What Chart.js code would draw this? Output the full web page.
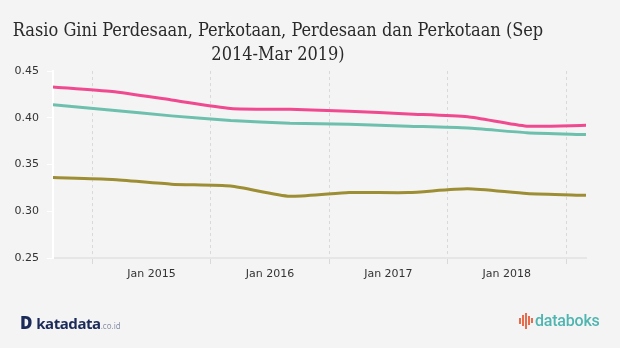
<!DOCTYPE html>
<html>
<head>
<meta charset="utf-8">
<script src="https://cdn.jsdelivr.net/npm/chart.js@4"></script>
<style>
  html, body { margin: 0; padding: 0; background: #f4f4f4; }
  #wrap { position: relative; width: 620px; height: 348px; overflow: hidden; }
  #judul {
    position: absolute; left: 0; top: 18px; width: 556px;
    text-align: center; font-family: "DejaVu Serif", serif; font-stretch: condensed;
    font-size: 18px; line-height: 24px; color: #2a2a2a;
  }
  #chart { position: absolute; left: 0; top: 0; }
  .kd { position: absolute; left: 20px; top: 311px; font-family: "Noto Sans", sans-serif; color: #1b2a59; white-space: nowrap; }
  .kd b { font-size: 17px; font-weight: 900; letter-spacing: -0.5px; }
  .kd span { font-size: 15px; font-weight: 700; letter-spacing: -0.4px; }
  .kd small { font-size: 8px; color: #8a93a8; font-weight: 400; }
  .db { position: absolute; left: 519px; top: 310px; font-family: Roboto, sans-serif; white-space: nowrap; }
  .db i { display: inline-block; width: 2px; margin-right: 1px; background: #ea6a4c; vertical-align: middle; }
  .db span { font-size: 16px; color: #4fb5b1; font-weight: 500; vertical-align: middle; letter-spacing: -0.2px; }
</style>
</head>
<body>
<div id="wrap">
  <canvas id="chart" width="620" height="348"></canvas>
  <div id="judul">Rasio Gini Perdesaan, Perkotaan, Perdesaan dan Perkotaan (Sep 2014-Mar 2019)</div>
  <div class="kd"><b>D</b> <span>katadata</span><small>.co.id</small></div>
  <div class="db"><i style="height:6px"></i><i style="height:11px"></i><i style="height:16px"></i><i style="height:9px"></i><i style="height:5px;margin-right:2px"></i><span>databoks</span></div>
</div>
<script>
// periode survei (Sep / Mar)
var periods = ['2014-09', '2015-03', '2015-09', '2016-03', '2016-09', '2017-03', '2017-09', '2018-03', '2018-09', '2019-03'];
var perkotaan = [0.433, 0.428, 0.419, 0.410, 0.409, 0.407, 0.404, 0.401, 0.391, 0.392];
var gabungan = [0.414, 0.408, 0.402, 0.397, 0.394, 0.393, 0.391, 0.389, 0.384, 0.382];
var perdesaan = [0.336, 0.334, 0.329, 0.327, 0.316, 0.320, 0.320, 0.324, 0.319, 0.317];
var tickMonths = ['2015-01', '2016-01', '2017-01', '2018-01', '2019-01'];
var tickLabels = ['Jan 2015', 'Jan 2016', 'Jan 2017', 'Jan 2018', ''];

// bulan sejak Sep 2014
function bulan(p) {
  var s = p.split('-');
  return (+s[0] - 2014) * 12 + (+s[1] - 9);
}

function seri(vals) {
  return vals.map(function(v, i) { return { x: bulan(periods[i]), y: v }; });
}

var axisFont = { family: '"DejaVu Sans", Verdana, sans-serif', size: 11 };

new Chart(document.getElementById('chart'), {
  type: 'line',
  data: {
    datasets: [
      { label: 'Perkotaan', data: seri(perkotaan), borderColor: '#f0498f' },
      { label: 'Perkotaan dan Perdesaan', data: seri(gabungan), borderColor: '#6cc0ad' },
      { label: 'Perdesaan', data: seri(perdesaan), borderColor: '#9d8d33' }
    ]
  },
  options: {
    responsive: false,
    animation: false,
    layout: { padding: { top: 71, right: 34, bottom: 60, left: 0 } },
    elements: {
      line: { borderWidth: 3, tension: 0.2, fill: false },
      point: { radius: 0, hoverRadius: 0 }
    },
    plugins: { legend: { display: false }, tooltip: { enabled: false } },
    scales: {
      x: {
        type: 'linear',
        min: bulan(periods[0]),
        max: bulan(periods[periods.length - 1]),
        afterBuildTicks: function(s) {
          s.ticks = tickMonths.map(function(m) { return { value: bulan(m) }; });
        },
        afterFit: function(s) { s.height = 30; },
        ticks: {
          autoSkip: false, maxRotation: 0, labelOffset: 59, padding: 4,
          color: '#333', font: axisFont,
          callback: function(v, i) { return tickLabels[i]; }
        },
        grid: { color: '#d9d9d9', lineWidth: 1, tickLength: 6 },
        border: { color: '#e6e6e6', width: 2, dash: [3, 3] }
      },
      y: {
        min: 0.25, max: 0.45,
        afterFit: function(s) { s.width = 53; },
        ticks: {
          stepSize: 0.05, padding: 8, color: '#333', font: axisFont,
          callback: function(v) { return v.toFixed(2); }
        },
        grid: { drawOnChartArea: false, color: '#ffffff', tickLength: 6 },
        border: { color: '#ffffff', width: 2 }
      }
    }
  }
});
</script>
</body>
</html>
